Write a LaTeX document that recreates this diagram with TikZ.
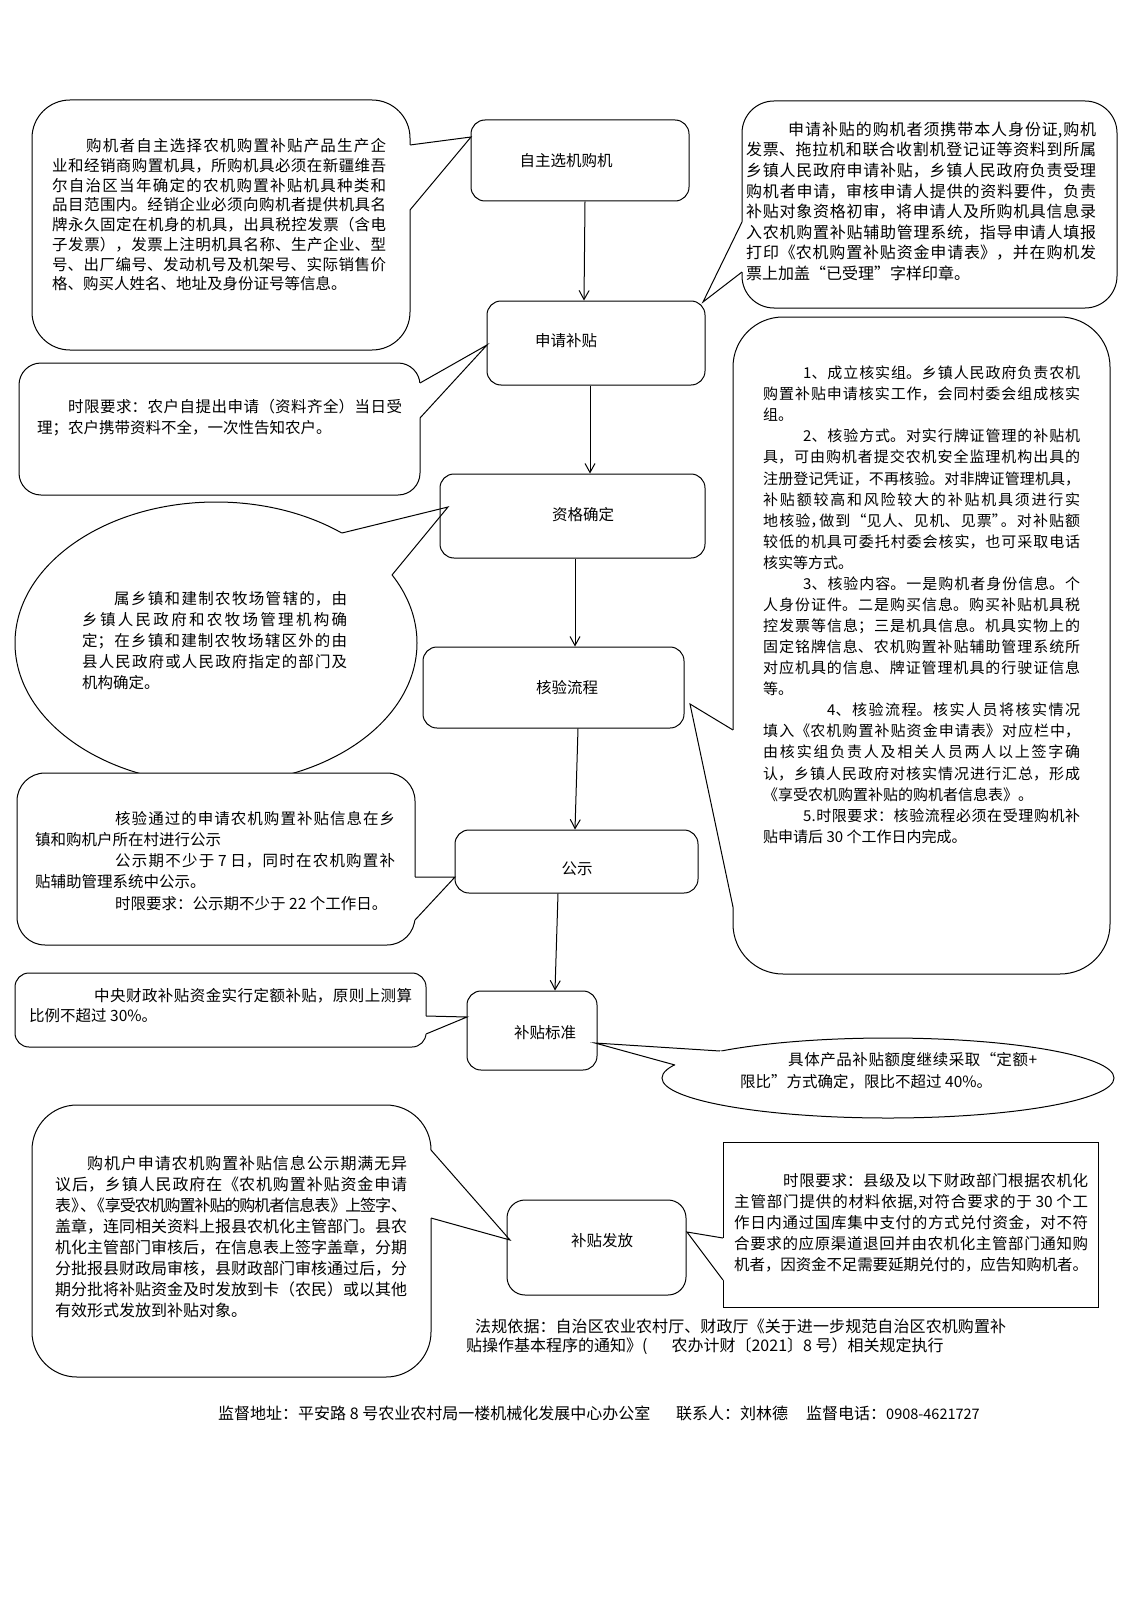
\documentclass[tikz,border=0pt]{standalone}
\usepackage{fontspec}
\setmainfont{Noto Sans CJK SC}
\usetikzlibrary{arrows.meta}
\XeTeXlinebreaklocale "zh"
\XeTeXlinebreakskip=0pt plus 8pt minus 1.2pt
\XeTeXlinebreakpenalty=10000
\tolerance=9999
\hbadness=10000
\hfuzz=20pt
\newcommand\myfs[2]{\fontsize{#1pt}{#2pt}\selectfont}
\newcommand\LB{\linebreak}
\newcommand\ind[1]{\hspace*{#1pt}}
\begin{document}
\begin{tikzpicture}[x=1pt,y=-1pt,
  flowbox/.style={draw,line width=1pt,rounded corners=14pt,inner sep=0pt},
  boxlabel/.style={inner sep=0pt,font=\myfs{15.5}{18}},
  cbox/.style={draw,line width=1pt,fill=white},
  ptrline/.style={line width=1pt,line join=miter},
  para/.style={anchor=base west,inner sep=0pt,align=justify},
  foot/.style={anchor=base west,inner sep=0pt,font=\myfs{16}{19}},
  arr/.style={line width=1pt,-{Straight Barb[length=9pt,width=10pt]}}]

\fill[white] (0,0) rectangle (1128,1597);
\useasboundingbox (0,0) rectangle (1128,1597);

% ---------- callout shapes ----------
% C1
\draw[cbox,rounded corners=38pt] (32,100) rectangle (410,350);
\fill[white] (406,145) -- (410,145) -- (471,137) -- (410,210) -- (406,210) -- cycle;
\draw[ptrline] (410,145) -- (471,137) -- (410,210);
% C2
\draw[cbox,rounded corners=32pt] (742,101) rectangle (1117,308);
\fill[white] (746,222) -- (742,222) -- (703,302) -- (742,272) -- (746,272) -- cycle;
\draw[ptrline] (742,222) -- (703,302) -- (742,272);
% C3
\draw[cbox,rounded corners=22pt] (19,363) rectangle (420,495);
\fill[white] (416,383) -- (420,383) -- (487,345) -- (420,418) -- (416,418) -- cycle;
\draw[ptrline] (420,383) -- (487,345) -- (420,418);
% C4 ellipse
\draw[cbox] (216,643) ellipse [x radius=201, y radius=141];
\fill[white] (339,536) -- (342,533) -- (448,507) -- (392,575) -- (388,576) -- cycle;
\draw[ptrline] (342,533) -- (448,507) -- (392,575);
% C5
\draw[cbox,rounded corners=50pt] (733,317) rectangle (1110,974);
\fill[white] (737,730) -- (733,730) -- (690,704) -- (733,907) -- (737,907) -- cycle;
\draw[ptrline] (733,730) -- (690,704) -- (733,907);
% C6
\draw[cbox,rounded corners=28pt] (17,773) rectangle (415,945);
\fill[white] (411,877) -- (415,877) -- (455,877) -- (415,920) -- (411,920) -- cycle;
\draw[ptrline] (415,877) -- (455,877) -- (415,920);
% C7
\draw[cbox,rounded corners=14pt] (15,973) rectangle (426,1047);
\fill[white] (422,1016) -- (426,1016) -- (467,1017) -- (426,1034) -- (422,1034) -- cycle;
\draw[ptrline] (426,1016) -- (467,1017) -- (426,1034);
% C8 ellipse
\draw[cbox] (888,1078) ellipse [x radius=226, y radius=40];
\fill[white] (724,1052) -- (720,1051) -- (595,1043) -- (675,1065) -- (679,1065) -- cycle;
\draw[ptrline] (720,1051) -- (595,1043) -- (675,1065);
% C9
\draw[cbox,rounded corners=45pt] (32,1105) rectangle (431,1377);
\fill[white] (427,1150) -- (431,1150) -- (510,1240) -- (431,1218) -- (427,1218) -- cycle;
\draw[ptrline] (431,1150) -- (510,1240) -- (431,1218);
% C10
\draw[cbox] (723,1142) rectangle (1098,1307);
\fill[white] (727,1238) -- (723,1238) -- (687,1232) -- (723,1280) -- (727,1280) -- cycle;
\draw[ptrline] (723,1238) -- (687,1232) -- (723,1280);

% ---------- flow boxes ----------
\node[flowbox,minimum width=218pt,minimum height=81pt] (b1) at (580,160.5) {};
\node[flowbox,minimum width=218pt,minimum height=84pt] (b2) at (596,343) {};
\node[flowbox,minimum width=265pt,minimum height=84pt] (b3) at (572.5,516) {};
\node[flowbox,minimum width=261pt,minimum height=81pt] (b4) at (553.5,687.5) {};
\node[flowbox,minimum width=243pt,minimum height=63pt] (b5) at (576.5,861.5) {};
\node[flowbox,minimum width=130pt,minimum height=79pt] (b6) at (532,1030.5) {};
\node[flowbox,rounded corners=18pt,minimum width=179pt,minimum height=95pt] (b7) at (596.5,1247.5) {};

\node[boxlabel] (l1) at (566,161) {自主选机购机};
\node[boxlabel] (l2) at (566,341) {申请补贴};
\node[boxlabel] (l3) at (583,515) {资格确定};
\node[boxlabel] (l4) at (567,688) {核验流程};
\node[boxlabel] (l5) at (577,869) {公示};
\node[boxlabel] (l6) at (545,1033) {补贴标准};
\node[boxlabel] (l7) at (602,1241) {补贴发放};

% ---------- arrows ----------
\draw[arr] ([xshift=5pt]b1.south) -- ([xshift=-12pt]b2.north);
\draw[arr] ([xshift=-6pt]b2.south) -- ([xshift=17.5pt]b3.north);
\draw[arr] ([xshift=2.5pt]b3.south) -- ([xshift=21.5pt]b4.north);
\draw[arr] ([xshift=24.5pt]b4.south) -- ([xshift=-1.5pt]b5.north);
\draw[arr] ([xshift=-18.5pt]b5.south) -- ([xshift=23pt]b6.north);

% ---------- texts ----------
\node[para,text width=334pt,font=\myfs{15.5}{19.7}] (t1) at (52,151.9) {%
\ind{34}购机者自主选择农机购置补贴产品生产企\LB
业和经销商购置机具，所购机具必须在新疆维吾\LB
尔自治区当年确定的农机购置补贴机具种类和\LB
品目范围内。经销企业必须向购机者提供机具名\LB
牌永久固定在机身的机具，出具税控发票（含电\LB
子发票），发票上注明机具名称、生产企业、型\LB
号、出厂编号、发动机号及机架号、实际销售价\LB
格、购买人姓名、地址及身份证号等信息。};

\node[para,text width=350pt,font=\myfs{16}{20.6}] (t2) at (746,135.3) {%
\ind{42}申请补贴的购机者须携带本人身份证,购机\LB
发票、拖拉机和联合收割机登记证等资料到所属\LB
乡镇人民政府申请补贴，乡镇人民政府负责受理\LB
购机者申请，审核申请人提供的资料要件，负责\LB
补贴对象资格初审，将申请人及所购机具信息录\LB
入农机购置补贴辅助管理系统，指导申请人填报\LB
打印《农机购置补贴资金申请表》，并在购机发\LB
票上加盖“已受理”字样印章。};

\node[para,text width=365pt,font=\myfs{15.5}{21.4}] (t3) at (37,412) {%
\ind{31}时限要求：农户自提出申请（资料齐全）当日受\LB
理；农户携带资料不全，一次性告知农户。};

\node[para,text width=265pt,font=\myfs{15.5}{21}] (t4) at (82,604) {%
\ind{32}属乡镇和建制农牧场管辖的，由\LB
乡镇人民政府和农牧场管理机构确\LB
定；在乡镇和建制农牧场辖区外的由\LB
县人民政府或人民政府指定的部门及\LB
机构确定。};

\node[para,text width=317pt,font=\myfs{15}{21.07}] (t5) at (763,378.7) {%
\ind{40}1、成立核实组。乡镇人民政府负责农机\LB
购置补贴申请核实工作，会同村委会组成核实\LB
组。\\
\ind{40}2、核验方式。对实行牌证管理的补贴机\LB
具，可由购机者提交农机安全监理机构出具的\LB
注册登记凭证，不再核验。对非牌证管理机具，\LB
补贴额较高和风险较大的补贴机具须进行实\LB
地核验，\kern-.4em做到“见人、见机、见票”\kern-.4em。对补贴额\LB
较低的机具可委托村委会核实，也可采取电话\LB
核实等方式。\\
\ind{40}3、核验内容。一是购机者身份信息。个\LB
人身份证件。二是购买信息。购买补贴机具税\LB
控发票等信息；三是机具信息。机具实物上的\LB
固定铭牌信息、农机购置补贴辅助管理系统所\LB
对应机具的信息、牌证管理机具的行驶证信息\LB
等。\\
\ind{64}4、核验流程。核实人员将核实情况\LB
填入《农机购置补贴资金申请表》对应栏中，\LB
由核实组负责人及相关人员两人以上签字确\LB
认，乡镇人民政府对核实情况进行汇总，形成\LB
《享受农机购置补贴的购机者信息表》。\\
\ind{40}5.时限要求：核验流程必须在受理购机补\LB
贴申请后~30~个工作日内完成。};

\node[para,text width=360pt,font=\myfs{15.5}{21.3}] (t6) at (35,824) {%
\ind{80}核验通过的申请农机购置补贴信息在乡\LB
镇和购机户所在村进行公示\\
\ind{80}公示期不少于~7~日，同时在农机购置补\LB
贴辅助管理系统中公示。\\
\ind{80}时限要求：公示期不少于~22~个工作日。};

\node[para,text width=383pt,font=\myfs{15.5}{20}] (t7) at (29,1001) {%
\ind{65}中央财政补贴资金实行定额补贴，原则上测算\LB
比例不超过~30\%。};

\node[para,text width=297pt,font=\myfs{15.5}{22.4}] (t8) at (740,1065) {%
\ind{48}具体产品补贴额度继续采取“定额+\LB
限比”方式确定，限比不超过~40\%。};

\node[para,text width=352pt,font=\myfs{16}{21}] (t9) at (55,1169) {%
\ind{32}购机户申请农机购置补贴信息公示期满无异\LB
议后，乡镇人民政府在《农机购置补贴资金申请\LB
表》\kern-.45em、\kern-.45em《享受农机购置补贴的购机者信息表》上签字、\LB
盖章，连同相关资料上报县农机化主管部门。县农\LB
机化主管部门审核后，在信息表上签字盖章，分期\LB
分批报县财政局审核，县财政部门审核通过后，分\LB
期分批将补贴资金及时发放到卡（农民）或以其他\LB
有效形式发放到补贴对象。};

\node[para,text width=354pt,font=\myfs{15.5}{21}] (t10) at (734,1186) {%
\ind{49}时限要求：县级及以下财政部门根据农机化\LB
主管部门提供的材料依据,对符合要求的于~30~个工\LB
作日内通过国库集中支付的方式兑付资金，对不符\LB
合要求的应原渠道退回并由农机化主管部门通知购\LB
机者，因资金不足需要延期兑付的，应告知购机者。};

\node[para,text width=540pt,font=\myfs{16}{19}] (t11) at (466,1332) {%
\ind{9}法规依据：自治区农业农村厅、财政厅《关于进一步规范自治区农机购置补\LB
贴操作基本程序的通知》(\hspace{24pt}农办计财〔2021〕8~号）相关规定执行};

\node[foot] (f1) at (218,1419) {监督地址：平安路~8~号农业农村局一楼机械化发展中心办公室};
\node[foot] (f2) at (676,1419) {联系人：刘林德};
\node[foot] (f3) at (806,1419) {监督电话：\myfs{14.5}{19}0908-4621727};
\end{tikzpicture}
\end{document}
